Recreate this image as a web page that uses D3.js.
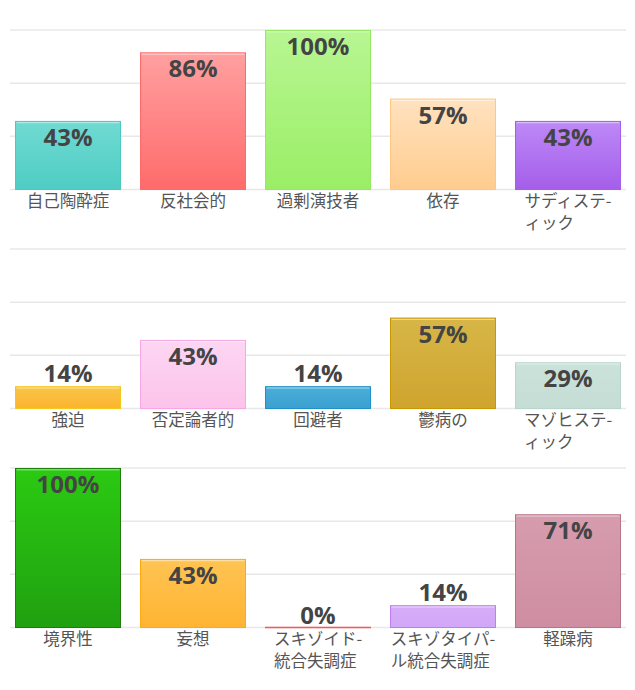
<!DOCTYPE html>
<html>
<head>
<meta charset="utf-8">
<script src="https://cdn.jsdelivr.net/npm/d3@7/dist/d3.min.js"></script>
<style>
html,body{margin:0;padding:0;background:#fff;}
svg{display:block;}
</style>
</head>
<body>
<svg id="chart" width="635" height="690"></svg>
<script>
// ---- data ----
const panel1Categories = ["自己陶酔症", "反社会的", "過剰演技者", "依存", "サディステ-\nィック"];
const panel1Values = [43, 86, 100, 57, 43];
const panel2Categories = ["強迫", "否定論者的", "回避者", "鬱病の", "マゾヒステ-\nィック"];
const panel2Values = [14, 43, 14, 57, 29];
const panel3Categories = ["境界性", "妄想", "スキゾイド-\n統合失調症", "スキゾタイパ-\nル統合失調症", "軽躁病"];
const panel3Values = [100, 43, 0, 14, 71];
const gridTicks = [0, 100/3, 200/3, 100];

// colours: [top, bottom, stroke]
const panel1Colors = [["#70dad2","#4ecdc4","#4cc8bf"],["#ffa0a0","#ff6b6b","#ff6b6b"],["#b8f692","#9aee66","#95e862"],["#ffe2c0","#ffcc8e","#ffc882"],["#bd89f7","#a55eea","#a060e8"]];
const panel2Colors = [["#f8c548","#fdb42e","#f5c81e"],["#fdd6f3","#fcc3ea","#f8a6e4"],["#4aaed8","#3aa0cf","#1f90c8"],["#d7b647","#cfa42e","#c99800"],["#cae2da","#c5ddd4","#b9d6cc"]];
const panel3Colors = [["#2bca12","#21a010","#1d7e0c"],["#ffc454","#ffb432","#ffaa10"],["#ff6b6b","#ff6b6b","#ff5555"],["#d6adf8","#d2a6f8","#c07ef5"],["#d69cae","#cf8da1","#b8748b"]];

const panels = [
  {cats: panel1Categories, vals: panel1Values, cols: panel1Colors, top: 30, base: 189.5},
  {cats: panel2Categories, vals: panel2Values, cols: panel2Colors, top: 249, base: 408.5},
  {cats: panel3Categories, vals: panel3Values, cols: panel3Colors, top: 468, base: 627.5}
];

const svg = d3.select("#chart");
const defs = svg.append("defs");

panels.forEach((p, pi) => {
  const x = d3.scaleBand().domain(p.cats).range([15, 621]).paddingInner(19/125).paddingOuter(0);
  const y = d3.scaleLinear().domain([0, 100]).range([p.base, p.top]);
  const g = svg.append("g");

  // gridlines
  g.selectAll("line.grid").data(gridTicks).enter().append("line")
    .attr("x1", 10).attr("x2", 626)
    .attr("y1", d => y(d)).attr("y2", d => y(d))
    .attr("stroke", "#e8e8e8").attr("stroke-width", 1.5);

  p.cols.forEach((c, i) => {
    const lg = defs.append("linearGradient").attr("id", `g${pi}_${i}`)
      .attr("x1", 0).attr("y1", 0).attr("x2", 0).attr("y2", 1);
    lg.append("stop").attr("offset", "0%").attr("stop-color", c[0]);
    lg.append("stop").attr("offset", "100%").attr("stop-color", c[1]);
  });

  const data = p.cats.map((c, i) => ({cat: c, val: p.vals[i], col: p.cols[i], i}));

  // bars
  g.selectAll("rect.bar").data(data.filter(d => d.val > 0)).enter().append("rect")
    .attr("x", d => x(d.cat) + 0.5)
    .attr("y", d => y(d.val) + 0.5)
    .attr("width", x.bandwidth() - 1)
    .attr("height", d => Math.max(0, y(0) - y(d.val) - 0.5))
    .attr("fill", d => `url(#g${pi}_${d.i})`)
    .attr("stroke", d => d.col[2]).attr("stroke-width", 1);

  // zero-value bars: a flat coloured line on the baseline
  g.selectAll("line.zero").data(data.filter(d => d.val === 0)).enter().append("line")
    .attr("x1", d => x(d.cat)).attr("x2", d => x(d.cat) + x.bandwidth())
    .attr("y1", d => y(d.val)).attr("y2", d => y(d.val))
    .attr("stroke", d => d.col[2]).attr("stroke-width", 1.5);

  // top highlight
  g.selectAll("line.hl").data(data.filter(d => d.val > 0)).enter().append("line")
    .attr("x1", d => x(d.cat) + 1.5).attr("x2", d => x(d.cat) + x.bandwidth() - 1.5)
    .attr("y1", d => y(d.val) + 1.8).attr("y2", d => y(d.val) + 1.8)
    .attr("stroke", "#ffffff").attr("stroke-opacity", 0.55).attr("stroke-width", 1);

  // value labels
  g.selectAll("text.val").data(data).enter().append("text")
    .attr("x", d => x(d.cat) + x.bandwidth() / 2)
    .attr("y", d => (y(0) - y(d.val) < 30) ? y(d.val) - 4 : y(d.val) + 25)
    .attr("text-anchor", "middle")
    .attr("font-family", "'Open Sans', sans-serif")
    .attr("font-weight", "bold")
    .attr("font-size", 24)
    .attr("fill", "#444")
    .text(d => d.val + "%");

  // category labels (lines left aligned, block centered)
  data.forEach(d => {
    const lines = d.cat.split("\n");
    const t = g.append("text")
      .attr("font-family", "'Noto Sans CJK JP', sans-serif")
      .attr("font-size", 16.5)
      .attr("fill", "#555");
    const spans = lines.map((ln, li) => t.append("tspan").attr("y", p.base + 17 + li * 22).text(ln));
    let maxW = 0;
    spans.forEach(s => { maxW = Math.max(maxW, s.node().getComputedTextLength()); });
    const cx = x(d.cat) + x.bandwidth() / 2;
    spans.forEach(s => s.attr("x", cx - maxW / 2));
  });
});
</script>
</body>
</html>
